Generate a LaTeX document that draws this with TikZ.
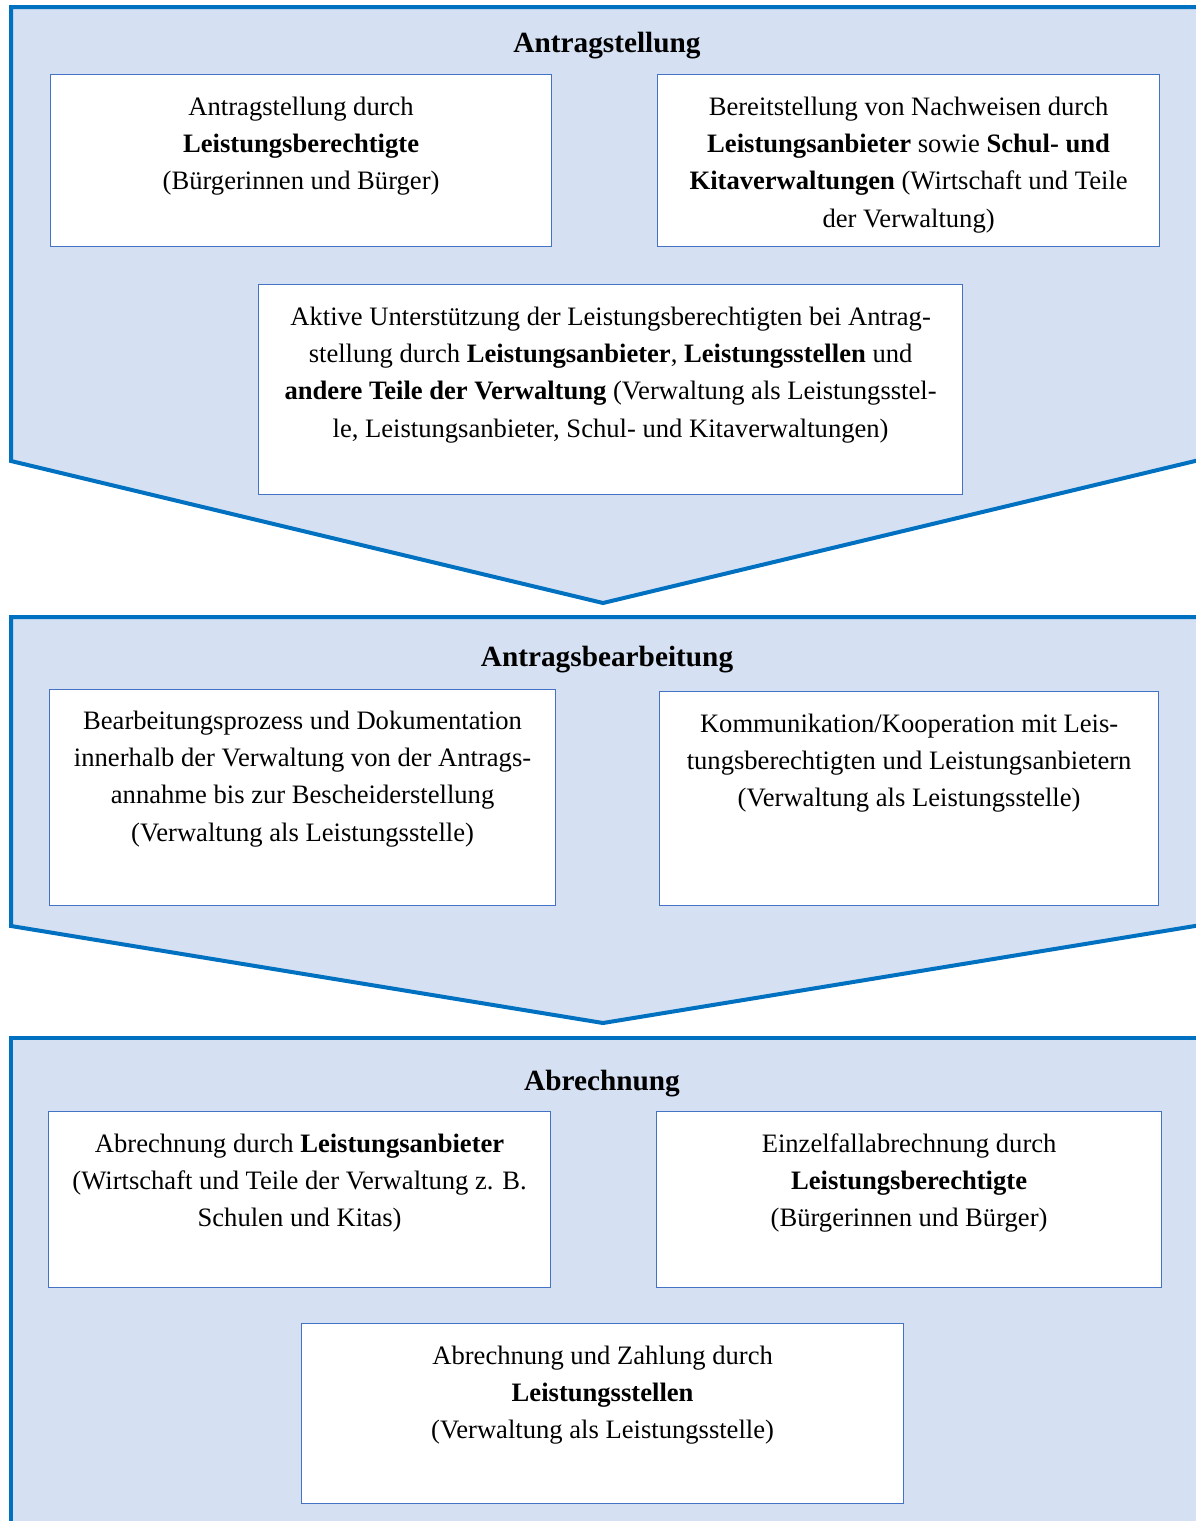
\documentclass[tikz,border=0pt]{standalone}
\usepackage{fontspec}
\setmainfont{Liberation Serif}
\definecolor{bandfill}{RGB}{213,224,243}
\definecolor{bandline}{RGB}{0,112,192}
\definecolor{boxline}{RGB}{68,114,196}
\tikzset{
  x=1pt, y=-1pt,
  band/.style={fill=bandfill, draw=bandline, line width=4pt},
  box/.style={draw=boxline, line width=1.2pt, fill=white, rectangle, inner sep=0pt},
  txt/.style={anchor=north, align=center, inner sep=0pt, font=\fontsize{26.6}{37.3}\selectfont},
  ttl/.style={anchor=base, inner sep=0pt, font=\fontsize{29.3}{33}\selectfont\bfseries},
}
\begin{document}
\begin{tikzpicture}
\useasboundingbox (0,0) rectangle (1196,1521);
% bands
\draw[band] (11,7) -- (11,461) -- (603,603) -- (1201,459.6) -- (1201,7) -- cycle;
\draw[band] (11,617) -- (11,926) -- (603,1023) -- (1201,925) -- (1201,617) -- cycle;
\draw[band] (11,1530) -- (11,1038) -- (1201,1038) -- (1201,1530) -- cycle;
% titles
\node[ttl] (t1) at (607,52) {Antragstellung};
\node[ttl] (t2) at (607,666) {Antragsbearbeitung};
\node[ttl] (t3) at (602,1090) {Abrechnung};
% boxes
\node[box, anchor=north west, minimum width=501pt, minimum height=172pt] (b1) at (50,74) {};
\node[box, anchor=north west, minimum width=502pt, minimum height=172pt] (b2) at (657,74) {};
\node[box, anchor=north west, minimum width=704pt, minimum height=210pt] (b3) at (258,284) {};
\node[box, anchor=north west, minimum width=506pt, minimum height=216pt] (b4) at (49,689) {};
\node[box, anchor=north west, minimum width=499pt, minimum height=214pt] (b5) at (659,691) {};
\node[box, anchor=north west, minimum width=502pt, minimum height=176pt] (b6) at (48,1111) {};
\node[box, anchor=north west, minimum width=505pt, minimum height=176pt] (b7) at (656,1111) {};
\node[box, anchor=north west, minimum width=602pt, minimum height=180pt] (b8) at (301,1323) {};
% texts
\node[txt] (x1) at ([yshift=-15pt]b1.north) {\strut Antragstellung durch\\\textbf{Leistungsberechtigte}\\(Bürgerinnen und Bürger)};
\node[txt] (x2) at ([yshift=-15pt]b2.north) {\strut Bereitstellung von Nachweisen durch\\\textbf{Leistungsanbieter} sowie \textbf{Schul- und}\\\textbf{Kitaverwaltungen} (Wirtschaft und Teile\\der Verwaltung)};
\node[txt] (x3) at ([yshift=-15pt]b3.north) {\strut Aktive Unterstützung der Leistungsberechtigten bei Antrag-\\stellung durch \textbf{Leistungsanbieter}, \textbf{Leistungsstellen} und\\\textbf{andere Teile der Verwaltung} (Verwaltung als Leistungsstel-\\le, Leistungsanbieter, Schul- und Kitaverwaltungen)};
\node[txt] (x4) at ([yshift=-14pt]b4.north) {\strut Bearbeitungsprozess und Dokumentation\\innerhalb der Verwaltung von der Antrags-\\annahme bis zur Bescheiderstellung\\(Verwaltung als Leistungsstelle)};
\node[txt] (x5) at ([yshift=-15pt]b5.north) {\strut Kommunikation/Kooperation mit Leis-\\tungsberechtigten und Leistungsanbietern\\(Verwaltung als Leistungsstelle)};
\node[txt] (x6) at ([yshift=-15pt]b6.north) {\strut Abrechnung durch \textbf{Leistungsanbieter}\\(Wirtschaft und Teile der Verwaltung z. B.\\Schulen und Kitas)};
\node[txt] (x7) at ([yshift=-15pt]b7.north) {\strut Einzelfallabrechnung durch\\\textbf{Leistungsberechtigte}\\(Bürgerinnen und Bürger)};
\node[txt] (x8) at ([yshift=-15pt]b8.north) {\strut Abrechnung und Zahlung durch\\\textbf{Leistungsstellen}\\(Verwaltung als Leistungsstelle)};
\end{tikzpicture}
\end{document}
